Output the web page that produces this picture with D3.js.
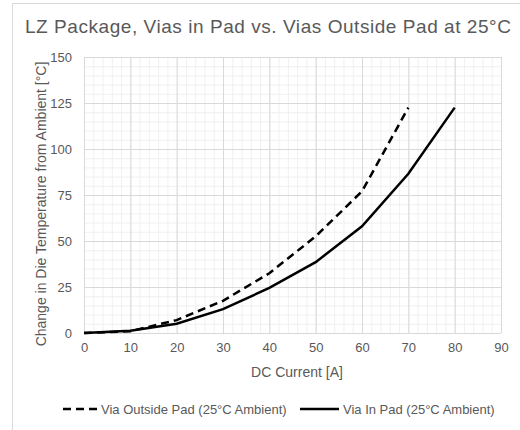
<!DOCTYPE html>
<html>
<head>
<meta charset="utf-8">
<script src="https://cdn.jsdelivr.net/npm/d3@7"></script>
<style>
  html, body { margin: 0; padding: 0; background: #fff; }
  svg { display: block; font-family: "Liberation Sans", Arial, sans-serif; }
</style>
</head>
<body>
<svg id="chart" width="520" height="430"></svg>
<script>
// chart data
const currents = [0, 10, 20, 30, 40, 50, 60, 70, 80]
const outsidePad = [0, 1, 7, 17.5, 32.5, 52.5, 77, 122.5]
const inPad = [0, 1.2, 5, 13, 24.5, 38.5, 58, 86.5, 122.5]
const xTicks = [0, 10, 20, 30, 40, 50, 60, 70, 80, 90]
const yTicks = [0, 25, 50, 75, 100, 125, 150]
const seriesNames = ['Via Outside Pad (25°C Ambient)', 'Via In Pad (25°C Ambient)']

const svg = d3.select('#chart')
const textColor = '#595959'

// outer chart frame
svg.append('rect')
  .attr('x', 12.5).attr('y', 3.5)
  .attr('width', 530).attr('height', 440)
  .attr('fill', '#fff')
  .attr('stroke', '#d9d9d9')

const x = d3.scaleLinear().domain([0, 90]).range([84, 501])
const y = d3.scaleLinear().domain([0, 150]).range([333, 57])

// minor grid
const g = svg.append('g')
g.selectAll('line.xminor')
  .data(d3.range(0, 91, 2))
  .join('line')
  .attr('x1', d => x(d) + 0.5).attr('x2', d => x(d) + 0.5)
  .attr('y1', y(0)).attr('y2', y(150))
  .attr('stroke', '#f0f0f0')
g.selectAll('line.yminor')
  .data(d3.range(0, 151, 5))
  .join('line')
  .attr('y1', d => y(d) + 0.5).attr('y2', d => y(d) + 0.5)
  .attr('x1', x(0)).attr('x2', x(90))
  .attr('stroke', '#f0f0f0')

// major grid
g.selectAll('line.xmajor')
  .data(xTicks)
  .join('line')
  .attr('x1', d => x(d) + 0.5).attr('x2', d => x(d) + 0.5)
  .attr('y1', y(0)).attr('y2', y(150))
  .attr('stroke', '#d9d9d9')
g.selectAll('line.ymajor')
  .data(yTicks)
  .join('line')
  .attr('y1', d => y(d) + 0.5).attr('y2', d => y(d) + 0.5)
  .attr('x1', x(0)).attr('x2', x(90))
  .attr('stroke', '#d9d9d9')

// axes (labels only)
const xAxis = svg.append('g')
  .attr('transform', `translate(0,${y(0) + 6})`)
  .call(d3.axisBottom(x).tickValues(xTicks).tickSize(0).tickPadding(4))
const yAxis = svg.append('g')
  .attr('transform', `translate(${x(0) - 9},0)`)
  .call(d3.axisLeft(y).tickValues(yTicks).tickSize(0).tickPadding(3))
;[xAxis, yAxis].forEach(a => {
  a.select('.domain').remove()
  a.selectAll('text')
    .attr('fill', textColor)
    .style('font-family', '"Liberation Sans", Arial, sans-serif')
    .style('font-size', '13px')
})

// series
const line = d3.line()
  .x(d => x(d[0]))
  .y(d => y(d[1]))

svg.append('path')
  .datum(outsidePad.map((v, i) => [currents[i], v]))
  .attr('d', line)
  .attr('fill', 'none')
  .attr('stroke', '#000')
  .attr('stroke-width', 2.5)
  .attr('stroke-dasharray', '8,5')

svg.append('path')
  .datum(inPad.map((v, i) => [currents[i], v]))
  .attr('d', line)
  .attr('fill', 'none')
  .attr('stroke', '#000')
  .attr('stroke-width', 2.5)

// title
svg.append('text')
  .attr('x', 25).attr('y', 32.5)
  .attr('fill', textColor)
  .style('font-size', '19px')
  .attr('textLength', 486)
  .attr('lengthAdjust', 'spacing')
  .text('LZ Package, Vias in Pad vs. Vias Outside Pad at 25°C')

// axis titles
svg.append('text')
  .attr('x', 297).attr('y', 377)
  .attr('text-anchor', 'middle')
  .attr('fill', textColor)
  .style('font-size', '14px')
  .text('DC Current [A]')

svg.append('text')
  .attr('transform', `translate(45.5,204) rotate(-90)`)
  .attr('text-anchor', 'middle')
  .attr('fill', textColor)
  .style('font-size', '14px')
  .text('Change in Die Temperature from Ambient [°C]')

// legend
const legend = svg.append('g').attr('transform', 'translate(0,409)')
const items = [
  { name: seriesNames[0], x0: 63, x1: 97, dash: '8,5' },
  { name: seriesNames[1], x0: 300, x1: 339, dash: null }
]
items.forEach(it => {
  legend.append('line')
    .attr('x1', it.x0).attr('x2', it.x1)
    .attr('y1', 0).attr('y2', 0)
    .attr('stroke', '#000')
    .attr('stroke-width', 2.5)
    .attr('stroke-dasharray', it.dash)
  legend.append('text')
    .attr('x', it.x1 + 4).attr('y', 4.5)
    .attr('fill', textColor)
    .style('font-size', '13px')
    .text(it.name)
})
</script>
</body>
</html>
